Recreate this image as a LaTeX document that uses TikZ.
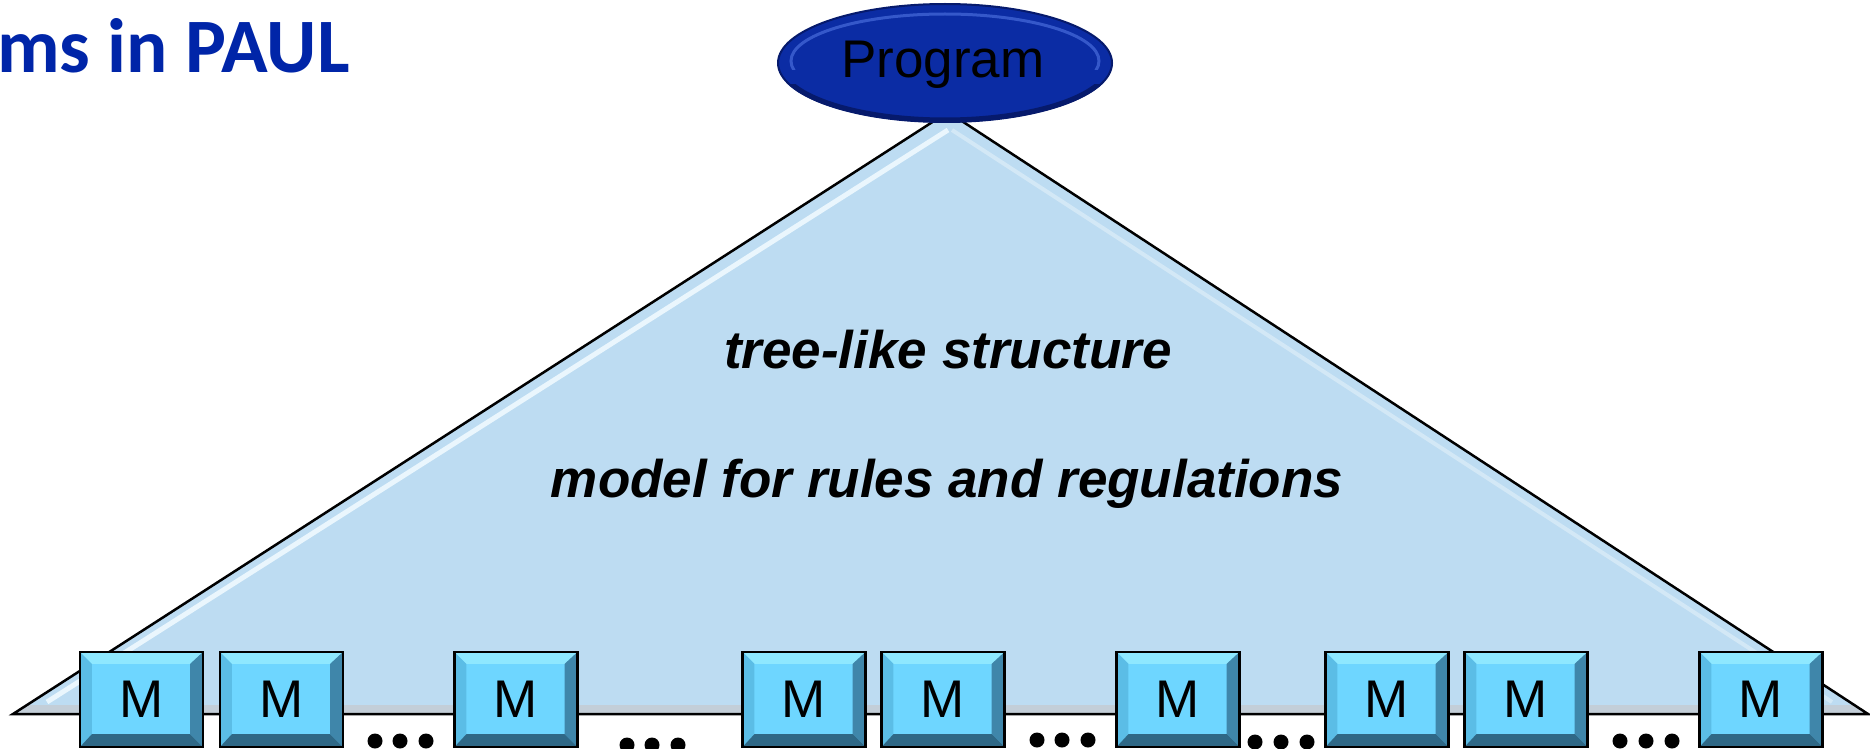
\documentclass[tikz,border=0pt]{standalone}
\usepackage{fontspec}
\usetikzlibrary{shapes.geometric,calc}
\newfontfamily\arialf{Liberation Sans}
\newfontfamily\calibf{Carlito}
\definecolor{trifill}{HTML}{BDDCF2}
\definecolor{trihi}{HTML}{EAF6FD}
\definecolor{trihiR}{HTML}{D3E8F6}
\definecolor{band}{HTML}{C3CED8}
\definecolor{ellfill}{HTML}{0B2CA4}
\definecolor{elldark}{HTML}{061A6C}
\definecolor{ellhi}{HTML}{4468D8}
\definecolor{mface}{HTML}{6ED6FF}
\definecolor{mtop}{HTML}{8EE8FF}
\definecolor{mleft}{HTML}{5BBDE6}
\definecolor{mright}{HTML}{3F86AA}
\definecolor{mbot}{HTML}{2F6886}
\definecolor{titleblue}{HTML}{0025A8}
\tikzset{
  mbox/.style={rectangle, minimum width=123pt, minimum height=95pt, inner sep=0pt,
    fill=mface, font=\fontsize{53}{60}\selectfont\arialf},
  bigtext/.style={anchor=base, inner sep=0pt, font=\fontsize{53}{60}\selectfont\arialf\bfseries\itshape},
  progell/.style={ellipse, minimum width=334pt, minimum height=118pt, inner sep=0pt,
    fill=ellfill, draw=elldark, line width=2pt},
  outline/.style={draw=black, line width=2.5pt},
  dotc/.style={fill=black}
}
\begin{document}
\begin{tikzpicture}[x=1pt,y=-1pt]
\useasboundingbox (0,0) rectangle (1870,749);
% triangle
\coordinate (apex) at (948,112);
\coordinate (bl) at (13,714);
\coordinate (br) at (1868,714);
\fill[trifill] (apex) -- (bl) -- (br) -- cycle;
% bottom band
\fill[band] ($(bl)+(13,-9)$) -- ($(br)+(-14,-9)$) -- (br) -- (bl) -- cycle;
% inner highlights
\draw[trihi, line width=5pt] ($(apex)+(0,18)$) -- ($(bl)+(34,-12)$);
\draw[trihiR, line width=4pt] ($(apex)+(4,18)$) -- ($(br)+(-36,-12)$);
\draw[outline, line join=miter] (apex) -- (bl) -- (br) -- cycle;
% program ellipse
\node[progell] (prog) at (945,63) {};
\begin{scope}
  \clip (770,0) rectangle (1120,70);
  \draw[ellhi, line width=3pt, opacity=0.75] (945,61) ellipse (154 and 47);
\end{scope}
\begin{scope}
  \clip (770,85) rectangle (1120,130);
  \draw[elldark, line width=5pt] (945,63) ellipse (165 and 57);
\end{scope}
\node[anchor=base, inner sep=0pt, font=\fontsize{53}{60}\selectfont\arialf] (progtxt) at (943,78) {Program};
% texts
\node[bigtext] (t1) at (948,368) {tree-like structure};
\node[bigtext] (t2) at (947,497) {model for rules and regulations};
% title
\node[anchor=base west, inner sep=0pt, text=titleblue, font=\fontsize{77}{84}\selectfont\calibf\bfseries] (title) at (-3,73) {ms in PAUL};
% module boxes
\node[mbox] (m1) at (141.5,699.5) {M};
\node[mbox] (m2) at (281.5,699.5) {M};
\node[mbox] (m3) at (516,699.5) {M};
\node[mbox] (m4) at (804,699.5) {M};
\node[mbox] (m5) at (943,699.5) {M};
\node[mbox] (m6) at (1178,699.5) {M};
\node[mbox] (m7) at (1387,699.5) {M};
\node[mbox] (m8) at (1526,699.5) {M};
\node[mbox] (m9) at (1761,699.5) {M};
\foreach \n in {m1,m2,m3,m4,m5,m6,m7,m8,m9}{
  \fill[mtop] (\n.north west) -- (\n.north east) -- ($(\n.north east)+(-12,12)$) -- ($(\n.north west)+(12,12)$) -- cycle;
  \fill[mleft] (\n.north west) -- ($(\n.north west)+(12,12)$) -- ($(\n.south west)+(12,-13)$) -- (\n.south west) -- cycle;
  \fill[mright] (\n.north east) -- (\n.south east) -- ($(\n.south east)+(-13,-13)$) -- ($(\n.north east)+(-13,12)$) -- cycle;
  \fill[mbot] (\n.south west) -- (\n.south east) -- ($(\n.south east)+(-13,-13)$) -- ($(\n.south west)+(12,-13)$) -- cycle;
  \draw[outline] (\n.north west) rectangle (\n.south east);
}
% dots
\foreach \x/\y in {375/741,400/741,426/741, 627/745,652/745,678/745, 1037/740,1062/740,1088/740, 1255/742,1281/742,1307/742, 1620/741,1646/741,1672/741}{
  \fill[dotc] (\x,\y) circle (7.5);
}
\end{tikzpicture}
\end{document}
